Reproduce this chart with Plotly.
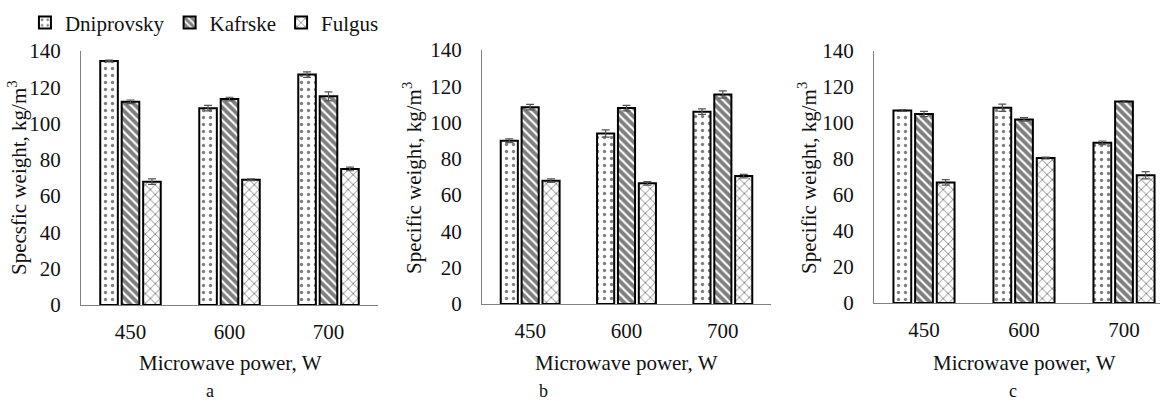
import plotly.graph_objects as go

W, H = 1160, 403

categories = ["450", "600", "700"]
series_names = ["Dniprovsky", "Kafrske", "Fulgus"]

# panel a
a_dnipro = [134.5, 108.5, 127]
a_dnipro_err = [0.5, 1.5, 1.5]
a_kafrske = [112, 113.5, 115]
a_kafrske_err = [1, 1, 2.5]
a_fulgus = [68, 69, 75]
a_fulgus_err = [1.5, 0.5, 1]

# panel b
b_dnipro = [90, 94, 106]
b_dnipro_err = [1, 2, 1.5]
b_kafrske = [108.5, 108, 115.5]
b_kafrske_err = [1.5, 1.5, 2]
b_fulgus = [68, 66.5, 70.5]
b_fulgus_err = [1, 1, 1]

# panel c
c_dnipro = [107, 108.5, 89]
c_dnipro_err = [0.5, 2, 1]
c_kafrske = [105, 102, 112]
c_kafrske_err = [1.5, 1, 0.5]
c_fulgus = [67, 80.5, 71]
c_fulgus_err = [1.5, 0.5, 2]

y_ticks = [0, 20, 40, 60, 80, 100, 120, 140]
panel_letters = ["a", "b", "c"]
x_title = "Microwave power, W"
y_titles = ["Specsfic weight, kg/m<sup>3</sup>",
            "Specific weight, kg/m<sup>3</sup>",
            "Specific weight, kg/m<sup>3</sup>"]

FONT = "Liberation Serif"
FS = 21
TXT = "#111111"

patterns = [
    dict(shape=".", size=7, solidity=0.18, fgcolor="black", bgcolor="white", fillmode="overlay"),
    dict(shape="\\", size=6, solidity=0.65, fgcolor="black", bgcolor="white", fillmode="overlay"),
    dict(shape="x", size=7, solidity=0.24, fgcolor="black", bgcolor="white", fillmode="overlay"),
]

panels = [
    ([a_dnipro, a_kafrske, a_fulgus], [a_dnipro_err, a_kafrske_err, a_fulgus_err]),
    ([b_dnipro, b_kafrske, b_fulgus], [b_dnipro_err, b_kafrske_err, b_fulgus_err]),
    ([c_dnipro, c_kafrske, c_fulgus], [c_dnipro_err, c_kafrske_err, c_fulgus_err]),
]

fig = go.Figure()
for p, (vals, errs) in enumerate(panels):
    xa = "x" if p == 0 else f"x{p+1}"
    ya = "y" if p == 0 else f"y{p+1}"
    for s in range(3):
        fig.add_trace(go.Bar(
            x=categories, y=vals[s], name=series_names[s],
            xaxis=xa, yaxis=ya,
            legendgroup=series_names[s], showlegend=(p == 0),
            marker=dict(color="white", pattern=patterns[s],
                        line=dict(color="black", width=2)),
            error_y=dict(type="data", array=errs[s], color="#555555",
                         thickness=1.2, width=4),
        ))

# pixel geometry -> paper domains
x_px = [(81, 378), (482, 771), (874, 1160)]
y_px = [(305, 51), (304, 50), (303, 51)]
x_ranges = [[-0.5, 2.5], [-0.5, 2.5], [-0.5, 2.36]]
xt_centers = [230, 626, 1024]
yt_centers = [18, 413, 808]
letter_x = [210, 543, 1013]

layout = dict(
    width=W, height=H,
    margin=dict(l=0, r=0, t=0, b=0),
    paper_bgcolor="white", plot_bgcolor="white",
    barmode="group", bargap=0.35, bargroupgap=0.18,
    font=dict(family=FONT, size=FS, color=TXT),
    showlegend=True,
    legend=dict(orientation="h", x=0.0215, y=0.943, xanchor="left", yanchor="middle",
                font=dict(family=FONT, size=FS, color=TXT),
                bgcolor="rgba(0,0,0,0)", itemwidth=30, tracegroupgap=0),
)
annotations = []
for p in range(3):
    sx = "" if p == 0 else str(p + 1)
    x0, x1 = x_px[p]
    yb, yt = y_px[p]
    layout[f"xaxis{sx}"] = dict(
        domain=[x0 / W, x1 / W], anchor=f"y{sx}", range=x_ranges[p],
        type="category", showline=True, linecolor="#808080", linewidth=1,
        showgrid=False, zeroline=False, ticks="", ticklabelstandoff=8,
        tickfont=dict(family=FONT, size=FS, color=TXT), automargin=False,
    )
    layout[f"yaxis{sx}"] = dict(
        domain=[(H - yb) / H, (H - yt) / H], anchor=f"x{sx}", range=[0, 140],
        tickvals=y_ticks, showline=True, linecolor="#808080", linewidth=1,
        showgrid=False, zeroline=False, ticks="", ticklabelstandoff=15,
        tickfont=dict(family=FONT, size=FS, color=TXT), automargin=False,
    )
    annotations.append(dict(text=x_title, xref="paper", yref="paper",
                            x=xt_centers[p] / W, y=(H - 363) / H,
                            xanchor="center", yanchor="middle", showarrow=False,
                            font=dict(family=FONT, size=FS, color=TXT)))
    annotations.append(dict(text=y_titles[p], xref="paper", yref="paper",
                            x=yt_centers[p] / W, y=(H - 178) / H, textangle=-90,
                            xanchor="center", yanchor="middle", showarrow=False,
                            font=dict(family=FONT, size=FS, color=TXT)))
    annotations.append(dict(text=panel_letters[p], xref="paper", yref="paper",
                            x=letter_x[p] / W, y=0,
                            xanchor="center", yanchor="bottom", showarrow=False,
                            font=dict(family=FONT, size=FS - 3, color=TXT)))
layout["annotations"] = annotations
fig.update_layout(**layout)
fig.write_html("out.html", config={"displayModeBar": False},
               post_script="document.body.style.margin='0';document.body.style.overflow='hidden';")
